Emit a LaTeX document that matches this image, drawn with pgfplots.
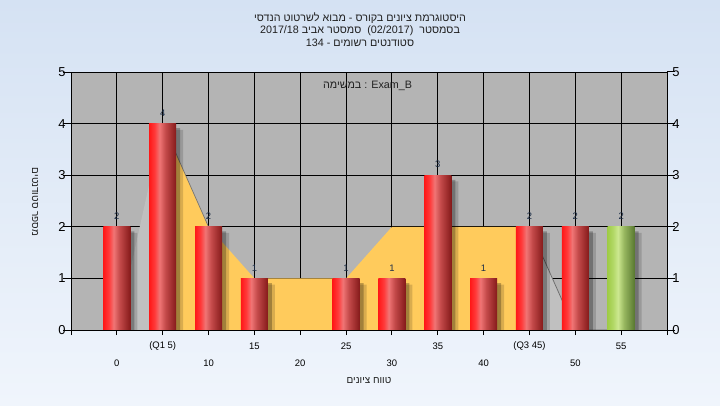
\documentclass[border=0pt]{standalone}
\usepackage{fontspec}
\setmainfont{Liberation Sans}
\newfontfamily\heb[Script=Hebrew]{Liberation Sans}
\usepackage{pgfplots}
\pgfplotsset{compat=1.18}

\definecolor{bgtop}{HTML}{D5E2F3}
\definecolor{bgbot}{HTML}{F0F5FC}
\definecolor{plotbg}{HTML}{B4B4B4}
\definecolor{areaO}{HTML}{FFCB5C}
\definecolor{areaG}{HTML}{C0C0C0}
\definecolor{labc}{HTML}{1E2F48}
\definecolor{titc}{HTML}{202020}
\definecolor{r0}{HTML}{FF1818}
\definecolor{r1}{HTML}{FF3A3A}
\definecolor{r2}{HTML}{F07575}
\definecolor{r3}{HTML}{C44A4A}
\definecolor{r4}{HTML}{851A1A}
\definecolor{g0}{HTML}{A0CC48}
\definecolor{g1}{HTML}{B2D866}
\definecolor{g2}{HTML}{CCE890}
\definecolor{g3}{HTML}{98B860}
\definecolor{g4}{HTML}{587830}

\pgfdeclarehorizontalshading{redcyl}{100bp}{color(0bp)=(r0); color(25bp)=(r0); color(35bp)=(r1); color(44bp)=(r2); color(55bp)=(r3); color(75bp)=(r4); color(100bp)=(r4)}
\pgfdeclarehorizontalshading{greencyl}{100bp}{color(0bp)=(g0); color(25bp)=(g0); color(35bp)=(g1); color(44bp)=(g2); color(55bp)=(g3); color(75bp)=(g4); color(100bp)=(g4)}

\pgfplotsset{
  cylbar/.style={ybar, bar width=27bp, bar shift=0pt, draw=none, shading=#1,
    nodes near coords,
    every node near coord/.append style={font=\fontsize{9.5}{10}\selectfont,
      text=labc, anchor=south, inner sep=0pt, yshift=7bp}},
}

\begin{document}
\begin{tikzpicture}[x=1bp,y=1bp]
\shade[top color=bgtop,bottom color=bgbot] (0,0) rectangle (720,405);

\begin{axis}[
    at={(71bp,75bp)}, anchor=south west,
    width=596bp, height=258bp, scale only axis,
    xmin=-1, xmax=12, ymin=0, ymax=5,
    axis background/.style={fill=plotbg},
    axis line style={black, line width=1bp},
    grid=major,
    major grid style={black, line width=0.9bp},
    tick align=outside,
    xtick pos=bottom, ytick pos=left,
    ytick={0,1,2,3,4,5},
    ytick style={black, line width=1bp, /pgfplots/major tick length=8bp},
    xtick style={black, line width=1bp, /pgfplots/major tick length=5bp},
    /pgf/number format/assume math mode=true,
    yticklabel style={font=\fontsize{13}{13}\selectfont, inner sep=1bp},
    xtick={-1,0,2,4,6,8,10,12},
    xticklabels={{},0,10,20,30,40,50,{}},
    xticklabel style={font=\fontsize{9.5}{10}\selectfont, anchor=center, yshift=-29bp},
    extra x ticks={1,3,5,7,9,11},
    extra x tick labels={(Q1 5),15,25,35,(Q3 45),55},
    extra x tick style={grid=major, xticklabel style={yshift=17bp}},
]
% area behind the bars
\addplot[fill=areaG, draw=none] coordinates {(0,0) (1,4)} \closedcycle;
\addplot[fill=areaG, draw=none] coordinates {(9,2) (10,0) (11,0)} \closedcycle;
\addplot[fill=areaO, draw=none] coordinates {
    (1,4) (2,2) (3,1) (4,1) (5,1) (6,2) (7,2) (8,2) (9,2)} \closedcycle;
\addplot[black!55, line width=0.7bp] coordinates {(1,4) (2,2)};
\addplot[black!60, line width=0.7bp] coordinates {(9,2) (10,0) (11,0)};

% shadows
\addplot[ybar, bar width=27bp, bar shift=7bp, fill=black, opacity=0.15, draw=none]
    coordinates {(0,1.88) (1,3.88) (2,1.88) (3,0.88) (5,0.88) (6,0.88) (7,2.88) (8,0.88) (9,1.88) (10,1.88) (11,1.88)};
\addplot[ybar, bar width=27bp, bar shift=4bp, fill=black, opacity=0.25, draw=none]
    coordinates {(0,1.91) (1,3.91) (2,1.91) (3,0.91) (5,0.91) (6,0.91) (7,2.91) (8,0.91) (9,1.91) (10,1.91) (11,1.91)};

% bars, one plot each so that every bar gets its own shading
\addplot[cylbar=redcyl] coordinates {(0,2)};
\addplot[cylbar=redcyl] coordinates {(1,4)};
\addplot[cylbar=redcyl] coordinates {(2,2)};
\addplot[cylbar=redcyl] coordinates {(3,1)};
\addplot[cylbar=redcyl] coordinates {(5,1)};
\addplot[cylbar=redcyl] coordinates {(6,1)};
\addplot[cylbar=redcyl] coordinates {(7,3)};
\addplot[cylbar=redcyl] coordinates {(8,1)};
\addplot[cylbar=redcyl] coordinates {(9,2)};
\addplot[cylbar=redcyl] coordinates {(10,2)};
\addplot[cylbar=greencyl] coordinates {(11,2)};
\end{axis}

% right axis and bottom line on top
\begin{axis}[
    at={(71bp,75bp)}, anchor=south west,
    width=596bp, height=258bp, scale only axis,
    xmin=-1, xmax=12, ymin=0, ymax=5,
    axis x line*=bottom, axis y line*=right,
    axis line style={black, line width=1bp},
    xtick=\empty,
    ytick={0,1,2,3,4,5},
    tick align=outside,
    ytick style={black, line width=1bp, /pgfplots/major tick length=8bp},
    /pgf/number format/assume math mode=true,
    yticklabel style={font=\fontsize{13}{13}\selectfont, inner sep=1bp},
]
\end{axis}

% the reference shows its Hebrew words in left-to-right order;
% XeTeX reorders the run, so the words are typed reversed here
\node[font=\heb\fontsize{10.8}{12}\selectfont, text=titc] at (360,387) {הנדסי לשרטוט מבוא - בקורס ציונים היסטוגרמת};
\node[font=\heb\fontsize{10.8}{12}\selectfont, text=titc] at (360,374.5) {2017/18 אביב סמסטר~~(02/2017)~~בסמסטר};
\node[font=\heb\fontsize{10.8}{12}\selectfont, text=titc] at (360,362) {134 - רשומים סטודנטים};
\node[font=\heb\fontsize{10.8}{12}\selectfont, text=titc] at (367.5,319) {במשימה : Exam\_B};
\node[font=\heb\fontsize{10}{12}\selectfont, text=titc] at (369,24) {ציונים טווח};
\node[font=\heb\fontsize{10}{12}\selectfont, text=titc, rotate=-90] at (35,203) {סטודנטים מספר};
\end{tikzpicture}
\end{document}
